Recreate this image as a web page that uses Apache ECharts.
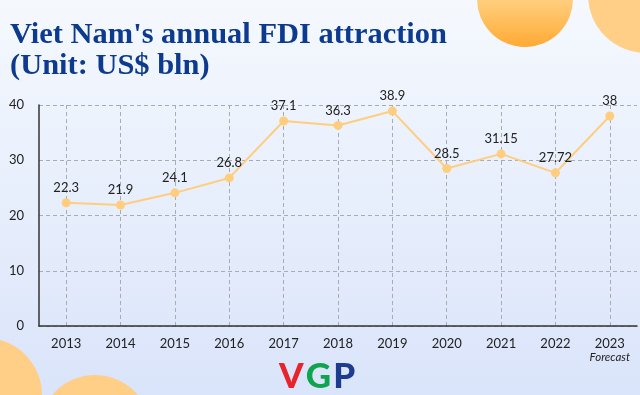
<!DOCTYPE html>
<html>
<head>
<meta charset="utf-8">
<script src="https://cdn.jsdelivr.net/npm/echarts@6/dist/echarts.min.js"></script>
<style>
html,body{margin:0;padding:0;}
#c{width:640px;height:395px;}
</style>
</head>
<body>
<div id="c"></div>
<script>
const titleLines = ["Viet Nam's annual FDI attraction", "(Unit: US$ bln)"];
const years = ["2013","2014","2015","2016","2017","2018","2019","2020","2021","2022","2023"];
const fdiValues = [22.3, 21.9, 24.1, 26.8, 37.1, 36.3, 38.9, 28.5, 31.15, 27.72, 38];
const valueLabels = ["22.3","21.9","24.1","26.8","37.1","36.3","38.9","28.5","31.15","27.72","38"];
const forecastYear = "2023";
const forecastNote = "Forecast";
const yTicks = [0, 10, 20, 30, 40];

const chart = echarts.init(document.getElementById('c'), null, {renderer: 'canvas'});
const logoFont = '900 35px Lato, "DejaVu Sans", sans-serif';
const option = {
  backgroundColor: {
    type: 'linear', x: 0, y: 0, x2: 0, y2: 1,
    colorStops: [{offset: 0, color: '#f5f9fe'}, {offset: 1, color: '#dae4fa'}]
  },
  animation: false,
  graphic: [
    {type: 'circle', shape: {cx: 525, cy: -1, r: 48}, z: 0,
     style: {fill: {type: 'linear', x: 0, y: 0, x2: 0, y2: 1, colorStops: [{offset: 0, color: '#ffd38f'}, {offset: 0.5, color: '#ffcf80'}, {offset: 1, color: '#ffaa33'}]}}},
    {type: 'circle', shape: {cx: 646, cy: -5, r: 58}, z: 0, style: {fill: '#ffcf87'}},
    {type: 'circle', shape: {cx: -15, cy: 395, r: 57}, z: 0, style: {fill: '#ffcf87'}},
    {type: 'circle', shape: {cx: 95, cy: 431, r: 56}, z: 0, style: {fill: '#ffcf87'}},
    {type: 'text', x: 10, y: 20, scaleX: 1.015, z: 5,
     style: {text: titleLines.join('\n'), fill: '#0c3a8e', font: 'bold 30px "Liberation Serif", serif', lineHeight: 31}},
    {type: 'text', x: 279, y: 359, z: 5,
     style: {
       text: '{v|V}{s| }{g|G}{s| }{p|P}',
       rich: {
         v: {fill: '#e8232b', font: logoFont},
         g: {fill: '#0fa44d', font: logoFont},
         p: {fill: '#1d3c8f', font: logoFont},
         s: {font: '8px sans-serif'}
       }
     }}
  ],
  grid: {left: 39, right: 3, top: 105, bottom: 69, containLabel: false},
  xAxis: {
    type: 'category',
    data: years,
    boundaryGap: true,
    axisLine: {show: true, lineStyle: {color: '#333', width: 1.5}},
    axisTick: {show: false, alignWithLabel: true, interval: 0},
    splitLine: {show: true, alignWithLabel: true, interval: 0, lineStyle: {color: '#a9acb3', type: [4, 3], width: 1}},
    axisLabel: {
      interval: 0, margin: 11, color: '#222', fontFamily: 'Lato', fontSize: 13,
      formatter: function (v) { return v === forecastYear ? v + '\n{f|' + forecastNote + '}' : v; },
      rich: {f: {fontFamily: 'Lato', fontStyle: 'italic', fontSize: 11.5, color: '#222', lineHeight: 14}}
    }
  },
  yAxis: {
    type: 'value', min: 0, max: 40, interval: 10,
    axisLine: {show: true, lineStyle: {color: '#333', width: 1.5}},
    axisTick: {show: false},
    splitLine: {show: true, lineStyle: {color: '#a9acb3', type: [4, 3], width: 1}},
    axisLabel: {margin: 15, color: '#222', fontFamily: 'Lato', fontSize: 13,
      formatter: function (v) { return yTicks.indexOf(v) >= 0 ? String(v) : ''; }}
  },
  series: [{
    type: 'line',
    data: fdiValues,
    symbol: 'circle', symbolSize: 9,
    lineStyle: {color: '#ffcd7e', width: 2},
    itemStyle: {color: '#ffcd7e'},
    label: {show: true, position: 'top', distance: 4, color: '#222', fontFamily: 'Lato', fontSize: 13,
      formatter: function (p) { return valueLabels[p.dataIndex]; }},
    z: 3
  }]
};
chart.setOption(option);
</script>
</body>
</html>
